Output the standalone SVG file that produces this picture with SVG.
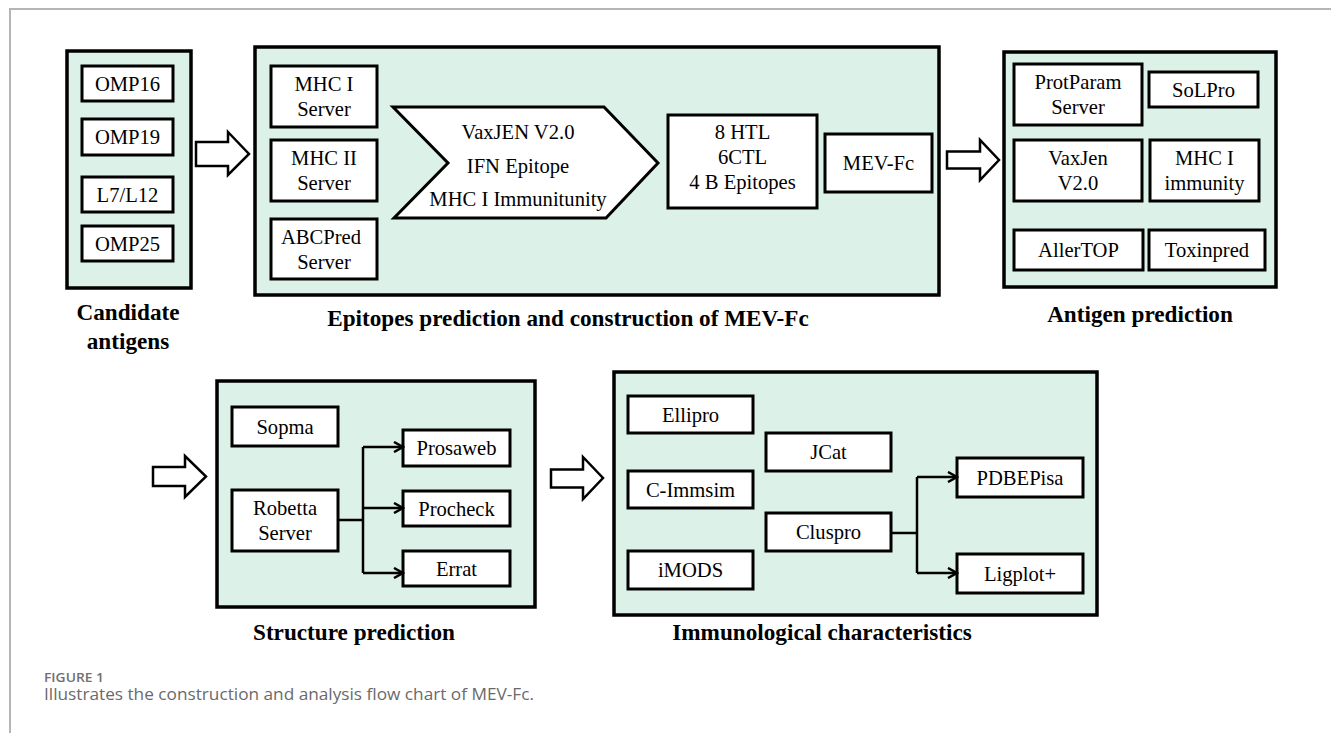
<svg xmlns="http://www.w3.org/2000/svg" width="1331" height="733" viewBox="0 0 1331 733">
<style>
.frame{fill:none;stroke:#b5b5b5;stroke-width:2}
.cont{fill:#dcf2e8;stroke:#000;stroke-width:3.5}
.box{fill:#fff;stroke:#000;stroke-width:3}
.t{font-family:"Liberation Serif","Times New Roman",serif;font-size:20.6px;fill:#000;text-anchor:middle}
.h{font-family:"Liberation Serif","Times New Roman",serif;font-size:23.2px;font-weight:bold;fill:#000;text-anchor:middle}
.blk{fill:#fff;stroke:#000;stroke-width:2.5;stroke-linejoin:miter}
.ln{fill:none;stroke:#000;stroke-width:2.5}
.cap1{font-family:"Open Sans",Lato,sans-serif;font-size:12.5px;font-weight:600;fill:#707070}
.cap2{font-family:"Open Sans",Lato,sans-serif;font-size:16px;fill:#6a6a6a}
</style>
<defs>
<marker id="ah" markerUnits="userSpaceOnUse" markerWidth="12" markerHeight="12" refX="9" refY="5" orient="auto" viewBox="-1 -1 12 12">
<path d="M0,0 L9,5 L0,10" fill="none" stroke="#000" stroke-width="2.5"/>
</marker>
</defs>
<rect width="1331" height="733" fill="#fff"/>
<path class="frame" d="M10,733 V9 H1331"/>

<g id="candidate-antigens">
<rect class="cont" x="67" y="51" width="124" height="237"/>
<text class="h" x="128" y="320">Candidate</text>
<text class="h" x="128" y="349">antigens</text>
</g>
<g id="omp16"><rect class="box" x="82" y="66" width="91" height="35"/><text class="t" x="127.5" y="90.5">OMP16</text></g>
<g id="omp19"><rect class="box" x="82" y="119" width="91" height="36"/><text class="t" x="127.5" y="144">OMP19</text></g>
<g id="l7l12"><rect class="box" x="82" y="177" width="91" height="35"/><text class="t" x="127.5" y="201.5">L7/L12</text></g>
<g id="omp25"><rect class="box" x="82" y="226" width="91" height="35"/><text class="t" x="127.5" y="250.5">OMP25</text></g>

<g id="epitopes-prediction">
<rect class="cont" x="255" y="47" width="684" height="248"/>
<text class="h" x="568" y="326">Epitopes prediction and construction of MEV-Fc</text>
</g>
<g id="mhc1-server"><rect class="box" x="271" y="66" width="106" height="61"/><text class="t" x="324" y="91">MHC I</text><text class="t" x="324" y="116">Server</text></g>
<g id="mhc2-server"><rect class="box" x="271" y="140" width="106" height="61"/><text class="t" x="324" y="165">MHC II</text><text class="t" x="324" y="190">Server</text></g>
<g id="abcpred-server"><rect class="box" x="271" y="219" width="106" height="60"/><text class="t" x="321" y="243.5">ABCPred</text><text class="t" x="324" y="268.5">Server</text></g>
<g id="vaxjen-filter">
<polygon class="box" points="393,107 604,107 658,163 606,218 394,218 448,163"/>
<text class="t" x="518" y="139">VaxJEN V2.0</text>
<text class="t" x="518" y="173">IFN Epitope</text>
<text class="t" x="518" y="206">MHC I Immunitunity</text>
</g>
<g id="epitopes-selected"><rect class="box" x="668" y="115" width="149" height="93"/><text class="t" x="742.5" y="139">8 HTL</text><text class="t" x="742.5" y="164">6CTL</text><text class="t" x="742.5" y="189">4 B Epitopes</text></g>
<g id="mev-fc"><rect class="box" x="825" y="134" width="107" height="58"/><text class="t" x="878.5" y="170">MEV-Fc</text></g>

<g id="antigen-prediction">
<rect class="cont" x="1004" y="52" width="272" height="235"/>
<text class="h" x="1140" y="322">Antigen prediction</text>
</g>
<g id="protparam"><rect class="box" x="1014" y="64" width="128" height="61"/><text class="t" x="1078" y="89">ProtParam</text><text class="t" x="1078" y="114">Server</text></g>
<g id="solpro"><rect class="box" x="1149" y="72" width="109" height="35"/><text class="t" x="1203.5" y="96.5">SoLPro</text></g>
<g id="vaxjen"><rect class="box" x="1014" y="140" width="128" height="61"/><text class="t" x="1078" y="165">VaxJen</text><text class="t" x="1078" y="190">V2.0</text></g>
<g id="mhc1-immunity"><rect class="box" x="1150" y="140" width="109" height="61"/><text class="t" x="1204.5" y="165">MHC I</text><text class="t" x="1204.5" y="190">immunity</text></g>
<g id="allertop"><rect class="box" x="1014" y="230" width="129" height="40"/><text class="t" x="1078.5" y="257">AllerTOP</text></g>
<g id="toxinpred"><rect class="box" x="1149" y="230" width="116" height="40"/><text class="t" x="1207" y="257">Toxinpred</text></g>

<g id="structure-prediction">
<rect class="cont" x="217" y="381" width="318" height="226"/>
<text class="h" x="354" y="640">Structure prediction</text>
</g>
<g id="sopma"><rect class="box" x="232" y="407" width="106" height="39"/><text class="t" x="285" y="433.5">Sopma</text></g>
<g id="robetta"><rect class="box" x="232" y="490" width="106" height="61"/><text class="t" x="285" y="515">Robetta</text><text class="t" x="285" y="540">Server</text></g>
<g id="prosaweb"><rect class="box" x="403" y="430" width="107" height="36"/><text class="t" x="456.5" y="455">Prosaweb</text></g>
<g id="procheck"><rect class="box" x="403" y="491" width="107" height="35"/><text class="t" x="456.5" y="515.5">Procheck</text></g>
<g id="errat"><rect class="box" x="403" y="551" width="107" height="35"/><text class="t" x="456.5" y="575.5">Errat</text></g>

<g id="immunological-characteristics">
<rect class="cont" x="614" y="372" width="483" height="243"/>
<text class="h" x="822" y="640">Immunological characteristics</text>
</g>
<g id="ellipro"><rect class="box" x="628" y="396" width="125" height="37"/><text class="t" x="690.5" y="421.5">Ellipro</text></g>
<g id="c-immsim"><rect class="box" x="628" y="471" width="125" height="37"/><text class="t" x="690.5" y="496.5">C-Immsim</text></g>
<g id="imods"><rect class="box" x="628" y="551" width="125" height="38"/><text class="t" x="690.5" y="577">iMODS</text></g>
<g id="jcat"><rect class="box" x="766" y="433" width="125" height="38"/><text class="t" x="828.5" y="459">JCat</text></g>
<g id="cluspro"><rect class="box" x="766" y="513" width="125" height="38"/><text class="t" x="828.5" y="539">Cluspro</text></g>
<g id="pdbepisa"><rect class="box" x="957" y="458" width="126" height="39"/><text class="t" x="1020" y="484.5">PDBEPisa</text></g>
<g id="ligplot"><rect class="box" x="957" y="554" width="126" height="39"/><text class="t" x="1020" y="580.5">Ligplot+</text></g>

<g id="connectors">
<polygon class="blk" points="196,142 228,142 228,132 249,154 228,175 228,166 196,166"/>
<polygon class="blk" points="947,151.5 980,151.5 980,140 999,160 980,180 980,168.5 947,168.5"/>
<polygon class="blk" points="153,467 185,467 185,456 206,476.5 185,497 185,486 153,486"/>
<polygon class="blk" points="551,469.5 583,469.5 583,457 603,478 583,499 583,487.5 551,487.5"/>
<path class="ln" d="M338,520 H363 M363,447 V573"/>
<path class="ln" d="M363,447 H403" marker-end="url(#ah)"/>
<path class="ln" d="M363,508 H403" marker-end="url(#ah)"/>
<path class="ln" d="M363,573 H403" marker-end="url(#ah)"/>
<path class="ln" d="M891,533 H917 M917,477 V573"/>
<path class="ln" d="M917,477 H957" marker-end="url(#ah)"/>
<path class="ln" d="M917,573 H957" marker-end="url(#ah)"/>
</g>

<g id="caption">
<text class="cap1" x="44" y="682" textLength="60" lengthAdjust="spacingAndGlyphs">FIGURE 1</text>
<text class="cap2" x="44" y="700" textLength="490" lengthAdjust="spacingAndGlyphs">Illustrates the construction and analysis flow chart of MEV-Fc.</text>
</g>
</svg>
